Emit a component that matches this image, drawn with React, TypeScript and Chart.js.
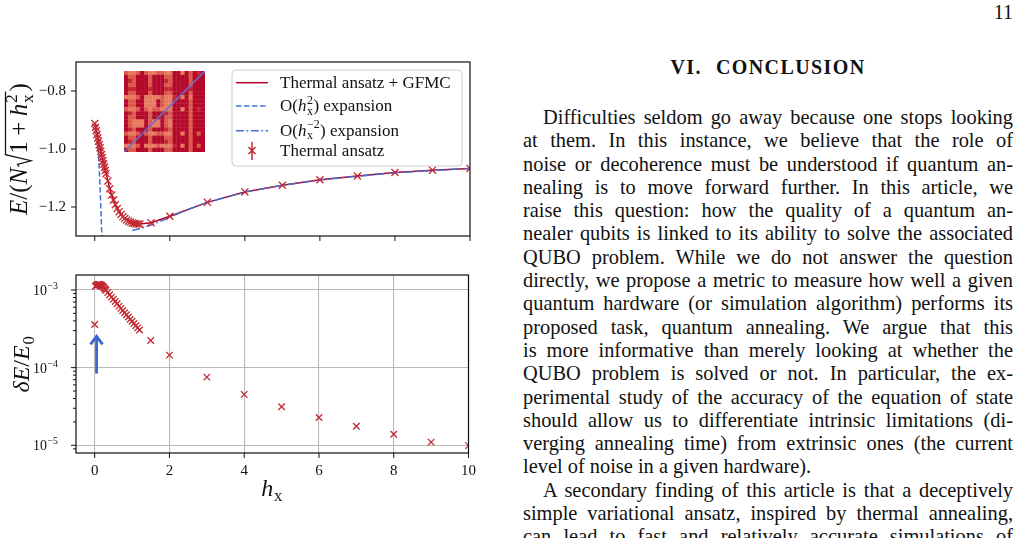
import React, { useEffect, useRef } from 'react';
import { Chart, registerables } from 'chart.js';
Chart.register(...registerables);

// ---------------- data ----------------
const hx = [0, 0.02, 0.04, 0.06, 0.08, 0.1, 0.12, 0.14, 0.16, 0.18, 0.2, 0.22, 0.24, 0.26, 0.28, 0.3,
  0.35, 0.4, 0.45, 0.5, 0.55, 0.6, 0.65, 0.7, 0.75, 0.8, 0.85, 0.9, 0.95, 1.0, 1.05, 1.1, 1.15, 1.2,
  1.5, 2, 3, 4, 5, 6, 7, 8, 9, 10];
const energyThermal = [-0.912, -0.925, -0.937, -0.95, -0.962, -0.973, -0.985, -0.996, -1.008, -1.019, -1.03, -1.041, -1.052, -1.063, -1.074, -1.085,
  -1.11, -1.137, -1.159, -1.176, -1.192, -1.205, -1.216, -1.226, -1.234, -1.24, -1.245, -1.249, -1.252, -1.255, -1.257, -1.258, -1.259, -1.259,
  -1.254, -1.232, -1.184, -1.148, -1.125, -1.106, -1.093, -1.081, -1.073, -1.067];
const relError = [3.6e-4, 1.12e-3, 1.14e-3, 1.16e-3, 1.17e-3, 1.18e-3, 1.18e-3, 1.17e-3, 1.16e-3, 1.15e-3, 1.13e-3, 1.11e-3, 1.08e-3, 1.05e-3, 1.02e-3, 9.9e-4,
  9.3e-4, 8.7e-4, 8.1e-4, 7.6e-4, 7.1e-4, 6.65e-4, 6.2e-4, 5.8e-4, 5.45e-4, 5.1e-4, 4.8e-4, 4.5e-4, 4.2e-4, 3.95e-4, 3.7e-4, 3.47e-4, 3.25e-4, 3.05e-4,
  2.24e-4, 1.45e-4, 7.55e-5, 4.53e-5, 3.13e-5, 2.28e-5, 1.76e-5, 1.39e-5, 1.1e-5, 9.9e-6];
const smallHx = [0, 0.03, 0.06, 0.09, 0.12, 0.15, 0.18, 0.21];
const smallExpansion = [-0.912, -0.922, -0.952, -1.001, -1.07, -1.16, -1.268, -1.397];
const largeHx = [1.0, 1.25, 1.5, 1.75, 2, 2.5, 3, 4, 5, 6, 7, 8, 9, 10];
const largeExpansion = [-1.281, -1.273, -1.262, -1.249, -1.235, -1.208, -1.184, -1.148, -1.125, -1.107, -1.094, -1.082, -1.074, -1.067];
const arrowX = [0.05];
const arrowTail = [8.4e-5];
const arrowHead = [2.6e-4];

const xTicks = [0, 2, 4, 6, 8, 10];
const energyTicks = [-1.2, -1.0, -0.8];
const decades = [-5, -4, -3];

// inset heatmap (rows top to bottom), levels 0 dark .. 3 light
const heatRows = [
  '23320233223300302010',
  '02200020002200002000',
  '01200020001200002000',
  '02200020002200002000',
  '01100010001100001000',
  '02200020002200002000',
  '33320333323310303000',
  '02200333023300002000',
  '02200333023300002000',
  '23320232233300302010',
  '01200020001200002000',
  '02200020002200002000',
  '02333023302300002000',
  '02333023302300002000',
  '01200020001200002000',
  '23320233223300302020',
  '02200020002200002000',
  '01200020001200002000',
  '33320333233310302020',
  '02200020002200002000',
];
const heatColors = ['#b5092b', '#c72634', '#dc5a4c', '#e97a60'];

// ---------------- styling ----------------
const FAMILY = '"Liberation Serif", "Times New Roman", serif';
const RED_LINE = '#b40426';
const RED_PT = '#c42830';
const BLUE = '#4470d4';
const ARROW_BLUE = '#3a66d0';

const pts = (xs: number[], ys: number[]) => xs.map((x, i) => ({ x, y: ys[i] }));
const isDecade = (v: number) => Math.abs(Math.log10(v) - Math.round(Math.log10(v))) < 1e-6;

type Item =
  | { k: 't'; t: string; i?: boolean }
  | { k: 'sp'; w: number }
  | { k: 'ss'; sup?: string; sub?: string }
  | { k: 'sqrt'; items: Item[] };

const fontOf = (s: number, i = false) => `${i ? 'italic ' : ''}${s}px ${FAMILY}`;

function measureItems(ctx: CanvasRenderingContext2D, items: Item[], s: number): number {
  let w = 0;
  for (const it of items) {
    if (it.k === 't') { ctx.font = fontOf(s, it.i); w += ctx.measureText(it.t).width; }
    else if (it.k === 'sp') w += it.w * s;
    else if (it.k === 'ss') {
      ctx.font = fontOf(s * 0.7);
      w += Math.max(it.sup ? ctx.measureText(it.sup).width : 0, it.sub ? ctx.measureText(it.sub).width : 0) + 0.06 * s;
    } else if (it.k === 'sqrt') w += 0.56 * s + measureItems(ctx, it.items, s) + 0.08 * s;
  }
  return w;
}

function drawItems(ctx: CanvasRenderingContext2D, items: Item[], s: number, x: number, y: number): number {
  for (const it of items) {
    if (it.k === 't') {
      ctx.font = fontOf(s, it.i); ctx.fillText(it.t, x, y); x += ctx.measureText(it.t).width;
    } else if (it.k === 'sp') x += it.w * s;
    else if (it.k === 'ss') {
      ctx.font = fontOf(s * 0.7);
      let w = 0;
      if (it.sup) { ctx.fillText(it.sup, x + 0.03 * s, y - 0.42 * s); w = Math.max(w, ctx.measureText(it.sup).width); }
      if (it.sub) { ctx.fillText(it.sub, x + 0.03 * s, y + 0.22 * s); w = Math.max(w, ctx.measureText(it.sub).width); }
      x += w + 0.06 * s;
    } else if (it.k === 'sqrt') {
      const inner = measureItems(ctx, it.items, s);
      const top = y - 0.86 * s;
      ctx.save();
      ctx.lineWidth = Math.max(1, 0.05 * s);
      ctx.strokeStyle = '#111';
      ctx.beginPath();
      ctx.moveTo(x + 0.04 * s, y - 0.32 * s);
      ctx.lineTo(x + 0.13 * s, y - 0.38 * s);
      ctx.lineTo(x + 0.28 * s, y + 0.16 * s);
      ctx.lineTo(x + 0.52 * s, top);
      ctx.lineTo(x + 0.64 * s + inner, top);
      ctx.stroke();
      ctx.restore();
      x = drawItems(ctx, it.items, s, x + 0.56 * s, y) + 0.08 * s;
    }
  }
  return x;
}

function drawCentered(ctx: CanvasRenderingContext2D, items: Item[], s: number, cx: number, baseline: number, rotate = false) {
  ctx.save();
  ctx.fillStyle = '#111';
  ctx.textAlign = 'left';
  ctx.textBaseline = 'alphabetic';
  const w = measureItems(ctx, items, s);
  if (rotate) {
    ctx.translate(baseline, cx);
    ctx.rotate(-Math.PI / 2);
    drawItems(ctx, items, s, -w / 2, 0);
  } else {
    drawItems(ctx, items, s, cx - w / 2, baseline);
  }
  ctx.restore();
}

function drawSpines(chart: any) {
  const { ctx, chartArea: a } = chart;
  ctx.save();
  ctx.strokeStyle = '#111';
  ctx.lineWidth = 1.2;
  ctx.setLineDash([]);
  ctx.strokeRect(a.left, a.top, a.right - a.left, a.bottom - a.top);
  ctx.restore();
}

function drawTickMarks(chart: any, logY: boolean) {
  const { ctx, chartArea: a, scales } = chart;
  ctx.save();
  ctx.strokeStyle = '#111';
  ctx.lineWidth = 1;
  ctx.beginPath();
  for (const t of scales.x.ticks) {
    const px = scales.x.getPixelForValue(t.value);
    ctx.moveTo(px, a.bottom); ctx.lineTo(px, a.bottom + 5);
  }
  for (const t of scales.y.ticks) {
    const py = scales.y.getPixelForValue(t.value);
    if (py < a.top - 0.5 || py > a.bottom + 0.5) continue;
    const len = logY && !isDecade(t.value) ? 3 : 5;
    ctx.moveTo(a.left - len, py); ctx.lineTo(a.left, py);
  }
  ctx.stroke();
  ctx.restore();
}

function drawLogLabels(chart: any) {
  const { ctx, scales } = chart;
  ctx.save();
  ctx.fillStyle = '#111';
  ctx.textAlign = 'left';
  ctx.textBaseline = 'alphabetic';
  for (const e of decades) {
    const y = scales.y.getPixelForValue(Math.pow(10, e));
    const exp = (e < 0 ? '−' : '') + Math.abs(e);
    ctx.font = fontOf(14);
    const wb = ctx.measureText('10').width;
    ctx.font = fontOf(9.8);
    const we = ctx.measureText(exp).width;
    const x0 = 58 - wb - we - 0.5;
    ctx.font = fontOf(14);
    ctx.fillText('10', x0, y + 5);
    ctx.font = fontOf(9.8);
    ctx.fillText(exp, x0 + wb + 0.5, y - 1);
  }
  ctx.restore();
}

function rrect(ctx: CanvasRenderingContext2D, x: number, y: number, w: number, h: number, r: number) {
  ctx.beginPath();
  ctx.moveTo(x + r, y);
  ctx.arcTo(x + w, y, x + w, y + h, r);
  ctx.arcTo(x + w, y + h, x, y + h, r);
  ctx.arcTo(x, y + h, x, y, r);
  ctx.arcTo(x, y, x + w, y, r);
  ctx.closePath();
}

const legendRows: { items: Item[]; kind: string }[] = [
  { kind: 'solid', items: [{ k: 't', t: 'Thermal ansatz + GFMC' }] },
  { kind: 'dash', items: [{ k: 't', t: 'O(' }, { k: 't', t: 'h', i: true }, { k: 'ss', sup: '2', sub: 'x' }, { k: 't', t: ') expansion' }] },
  { kind: 'dashdot', items: [{ k: 't', t: 'O(' }, { k: 't', t: 'h', i: true }, { k: 'ss', sup: '−2', sub: 'x' }, { k: 't', t: ') expansion' }] },
  { kind: 'marker', items: [{ k: 't', t: 'Thermal ansatz' }] },
];
const legendHandleY = [82.7, 106, 130.7, 150.5];
const legendBaseY = [88.3, 111, 135.5, 156];

function drawLegend(chart: any) {
  const ctx: CanvasRenderingContext2D = chart.ctx;
  ctx.save();
  rrect(ctx, 232, 70, 230, 96, 4);
  ctx.fillStyle = 'rgba(255,255,255,0.85)';
  ctx.fill();
  ctx.strokeStyle = '#cccccc';
  ctx.lineWidth = 1;
  ctx.stroke();
  legendRows.forEach((row, i) => {
    const y = legendHandleY[i];
    ctx.lineWidth = 1.5;
    ctx.setLineDash([]);
    if (row.kind === 'marker') {
      ctx.strokeStyle = RED_PT;
      ctx.beginPath();
      ctx.moveTo(252, y - 8.5); ctx.lineTo(252, y + 9.5);
      ctx.moveTo(248.5, y - 3.5); ctx.lineTo(255.5, y + 3.5);
      ctx.moveTo(248.5, y + 3.5); ctx.lineTo(255.5, y - 3.5);
      ctx.stroke();
    } else {
      ctx.strokeStyle = row.kind === 'solid' ? RED_LINE : BLUE;
      if (row.kind === 'dash') ctx.setLineDash([5.5, 2.5]);
      if (row.kind === 'dashdot') ctx.setLineDash([8, 2.5, 1.8, 2.5]);
      ctx.beginPath();
      ctx.moveTo(236, y); ctx.lineTo(268, y);
      ctx.stroke();
    }
    ctx.setLineDash([]);
    ctx.fillStyle = '#111';
    ctx.textAlign = 'left';
    ctx.textBaseline = 'alphabetic';
    drawItems(ctx, row.items, 17, 280, legendBaseY[i]);
  });
  ctx.restore();
}

const yLabelTop: Item[] = [
  { k: 't', t: 'E', i: true }, { k: 't', t: '/(' }, { k: 't', t: 'N', i: true },
  { k: 'sqrt', items: [{ k: 't', t: '1' }, { k: 'sp', w: 0.22 }, { k: 't', t: '+' }, { k: 'sp', w: 0.22 }, { k: 't', t: 'h', i: true }, { k: 'ss', sup: '2', sub: 'x' }] },
  { k: 't', t: ')' },
];
const yLabelBottom: Item[] = [
  { k: 't', t: 'δE', i: true }, { k: 't', t: '/' }, { k: 't', t: 'E', i: true }, { k: 'ss', sub: '0' },
];
const xLabel: Item[] = [{ k: 't', t: 'h', i: true }, { k: 'ss', sub: 'x' }];

const topPlugin = {
  id: 'topDecor',
  afterDatasetsDraw(chart: any) { drawSpines(chart); },
  afterDraw(chart: any) {
    drawTickMarks(chart, false);
    drawLegend(chart);
    drawCentered(chart.ctx, yLabelTop, 25, 149, 27, true);
  },
};

const bottomPlugin = {
  id: 'bottomDecor',
  afterDatasetsDraw(chart: any) {
    const { ctx, scales } = chart;
    const x = scales.x.getPixelForValue(arrowX[0]);
    const y0 = scales.y.getPixelForValue(arrowTail[0]);
    const y1 = scales.y.getPixelForValue(arrowHead[0]);
    ctx.save();
    ctx.strokeStyle = ARROW_BLUE;
    ctx.lineWidth = 2.8;
    ctx.lineCap = 'butt';
    ctx.lineJoin = 'miter';
    ctx.beginPath();
    ctx.moveTo(x, y0); ctx.lineTo(x, y1 + 1);
    ctx.stroke();
    ctx.beginPath();
    ctx.moveTo(x - 6, y1 + 9); ctx.lineTo(x, y1 + 1); ctx.lineTo(x + 6, y1 + 9);
    ctx.stroke();
    ctx.restore();
    drawSpines(chart);
  },
  afterDraw(chart: any) {
    drawTickMarks(chart, true);
    drawLogLabels(chart);
    drawCentered(chart.ctx, yLabelBottom, 24, 364 - 260, 29, true);
    const a = chart.chartArea;
    drawCentered(chart.ctx, xLabel, 24, (a.left + a.right) / 2, 496 - 260, false);
  },
};

function buildLogTicks(min: number, max: number) {
  const out: { value: number; major: boolean }[] = [];
  for (let e = -6; e <= -2; e++) {
    for (let m = 1; m <= 9; m++) {
      const v = m * Math.pow(10, e);
      if (v >= min * 1.02 && v <= max) out.push({ value: v, major: m === 1 });
    }
  }
  return out;
}

const tickFont = { family: FAMILY, size: 15 };

export default function App() {
  const topRef = useRef<HTMLCanvasElement>(null);
  const insetRef = useRef<HTMLCanvasElement>(null);
  const botRef = useRef<HTMLCanvasElement>(null);

  useEffect(() => {
    const charts: Chart[] = [];
    const base = {
      responsive: false,
      animation: false as const,
      devicePixelRatio: 1,
      events: [] as any[],
    };

    charts.push(new Chart(topRef.current!, {
      type: 'scatter',
      data: {
        datasets: [
          { label: 'Thermal ansatz', data: pts(hx, energyThermal), showLine: false, pointStyle: 'crossRot', pointRadius: 5, borderColor: RED_PT, backgroundColor: RED_PT, borderWidth: 1.3, order: 0, clip: 0 } as any,
          { label: 'O(h^-2) expansion', data: pts(largeHx, largeExpansion), showLine: true, pointRadius: 0, borderColor: BLUE, borderWidth: 1.5, borderDash: [8, 2.5, 1.8, 2.5], order: 1, clip: 0 },
          { label: 'O(h^2) expansion', data: pts(smallHx, smallExpansion), showLine: true, pointRadius: 0, borderColor: BLUE, borderWidth: 1.5, borderDash: [5.5, 2.5], order: 2, clip: 0 },
          { label: 'Thermal ansatz + GFMC', data: pts(hx, energyThermal), showLine: true, pointRadius: 0, borderColor: RED_LINE, borderWidth: 1.5, order: 3, clip: 0 },
        ],
      },
      options: {
        ...base,
        layout: { padding: { left: 0, top: 62, right: 10, bottom: 0 }, autoPadding: false },
        plugins: { legend: { display: false }, tooltip: { enabled: false } },
        scales: {
          x: {
            type: 'linear', min: -0.5, max: 10,
            afterBuildTicks: (s: any) => { s.ticks = xTicks.map((v) => ({ value: v })); },
            afterFit: (s: any) => { s.height = 10; },
            ticks: { display: false },
            grid: { color: 'transparent', drawTicks: false },
            border: { display: false },
          },
          y: {
            type: 'linear', min: -1.3, max: -0.7,
            afterBuildTicks: (s: any) => { s.ticks = energyTicks.map((v) => ({ value: v })); },
            afterFit: (s: any) => { s.width = 76; },
            ticks: { font: tickFont, color: '#111', padding: 5, callback: (v: any) => (v < 0 ? '−' : '') + Math.abs(Number(v)).toFixed(1) },
            grid: { color: 'transparent', tickColor: 'transparent', tickLength: 5 },
            border: { display: false },
          },
        },
      } as any,
      plugins: [topPlugin],
    }));

    const cells: { x: number; y: number; v: number }[] = [];
    heatRows.forEach((row, t) => row.split('').forEach((c, j) => cells.push({ x: j, y: heatRows.length - 1 - t, v: Number(c) })));
    const n = heatRows.length;
    charts.push(new Chart(insetRef.current!, {
      type: 'scatter',
      data: {
        datasets: [
          { data: [{ x: -0.5, y: -0.5 }, { x: n - 0.5, y: n - 0.5 }], showLine: true, pointRadius: 0, borderColor: 'rgba(105,110,205,0.9)', borderWidth: 1.8, order: 0 },
          { data: cells, pointStyle: 'rect', pointRadius: 3.1, borderWidth: 0, backgroundColor: (c: any) => heatColors[c.raw ? c.raw.v : 0], order: 1 } as any,
        ],
      },
      options: {
        ...base,
        layout: { padding: 0, autoPadding: false },
        plugins: { legend: { display: false }, tooltip: { enabled: false } },
        scales: {
          x: { type: 'linear', display: false, min: -0.5, max: n - 0.5 },
          y: { type: 'linear', display: false, min: -0.5, max: n - 0.5 },
        },
      } as any,
    }));

    const yMin = 7.96e-6, yMax = 1.56e-3;
    charts.push(new Chart(botRef.current!, {
      type: 'scatter',
      data: {
        datasets: [
          { label: 'relative error', data: pts(hx, relError), showLine: false, pointStyle: 'crossRot', pointRadius: 4.6, borderColor: RED_PT, backgroundColor: RED_PT, borderWidth: 1.3, clip: 0 } as any,
        ],
      },
      options: {
        ...base,
        layout: { padding: { left: 0, top: 15, right: 10, bottom: 0 }, autoPadding: false },
        plugins: { legend: { display: false }, tooltip: { enabled: false } },
        scales: {
          x: {
            type: 'linear', min: -0.5, max: 10,
            afterBuildTicks: (s: any) => { s.ticks = xTicks.map((v) => ({ value: v })); },
            afterFit: (s: any) => { s.height = 52; },
            ticks: { font: tickFont, color: '#111', padding: 4, autoSkip: false, maxRotation: 0 },
            grid: { color: '#b9b9b9', lineWidth: 1.1, tickColor: 'transparent', tickLength: 5 },
            border: { display: false },
          },
          y: {
            type: 'logarithmic', min: yMin, max: yMax,
            afterBuildTicks: (s: any) => { s.ticks = buildLogTicks(yMin, yMax); },
            afterFit: (s: any) => { s.width = 76; },
            ticks: { font: tickFont, color: '#111', padding: 5, autoSkip: false, callback: () => '' },
            grid: {
              color: (c: any) => (c.tick && isDecade(c.tick.value) ? '#b9b9b9' : 'transparent'),
              lineWidth: 1.1, tickColor: 'transparent', tickLength: 5,
            },
            border: { display: false },
          },
        },
      } as any,
      plugins: [bottomPlugin],
    }));

    return () => { charts.forEach((c) => c.destroy()); };
  }, []);

  const lineStyle: React.CSSProperties = { textAlign: 'justify', textAlignLast: 'justify', height: '23.3px' } as any;
  const para1 = [
    'Difficulties seldom go away because one stops looking',
    'at them.  In this instance, we believe that the role of',
    'noise or decoherence must be understood if quantum an-',
    'nealing is to move forward further.  In this article, we',
    'raise this question:  how the quality of a quantum an-',
    'nealer qubits is linked to its ability to solve the associated',
    'QUBO problem.  While we do not answer the question',
    'directly, we propose a metric to measure how well a given',
    'quantum hardware (or simulation algorithm) performs its',
    'proposed task, quantum annealing.  We argue that this',
    'is more informative than merely looking at whether the',
    'QUBO problem is solved or not.  In particular, the ex-',
    'perimental study of the accuracy of the equation of state',
    'should allow us to differentiate intrinsic limitations (di-',
    'verging annealing time) from extrinsic ones (the current',
    'level of noise in a given hardware).',
  ];
  const para2 = [
    'A secondary finding of this article is that a deceptively',
    'simple variational ansatz, inspired by thermal annealing,',
    'can lead to fast and relatively accurate simulations of',
  ];

  return (
    <div style={{ position: 'fixed', left: 0, top: 0, width: 1020, height: 538, background: '#fff', overflow: 'hidden', fontFamily: FAMILY, color: '#111' }}>
      <canvas ref={topRef} width={480} height={250} style={{ position: 'absolute', left: 0, top: 0, width: 480, height: 250 }} />
      <canvas ref={insetRef} width={81} height={81} style={{ position: 'absolute', left: 124, top: 71, width: 81, height: 81 }} />
      <canvas ref={botRef} width={480} height={245} style={{ position: 'absolute', left: 0, top: 260, width: 480, height: 245 }} />
      <div style={{ position: 'absolute', right: 7, top: 1, fontSize: 20, lineHeight: '23px' }}>11</div>
      <div style={{ position: 'absolute', left: 523, top: 56, width: 490, textAlign: 'center', fontSize: 20, fontWeight: 'bold', lineHeight: '23px', letterSpacing: '1.4px' }}>
        VI.<span style={{ display: 'inline-block', width: 14 }} />CONCLUSION
      </div>
      <div style={{ position: 'absolute', left: 523, top: 106, width: 490, fontSize: 20.4, lineHeight: '23.3px' }}>
        {para1.map((l, i) => (
          <div key={'a' + i} style={{ ...lineStyle, textIndent: i === 0 ? 20 : 0, textAlignLast: i === para1.length - 1 ? 'left' : 'justify' } as any}>{l}</div>
        ))}
        {para2.map((l, i) => (
          <div key={'b' + i} style={{ ...lineStyle, textIndent: i === 0 ? 20 : 0 } as any}>{l}</div>
        ))}
      </div>
    </div>
  );
}
